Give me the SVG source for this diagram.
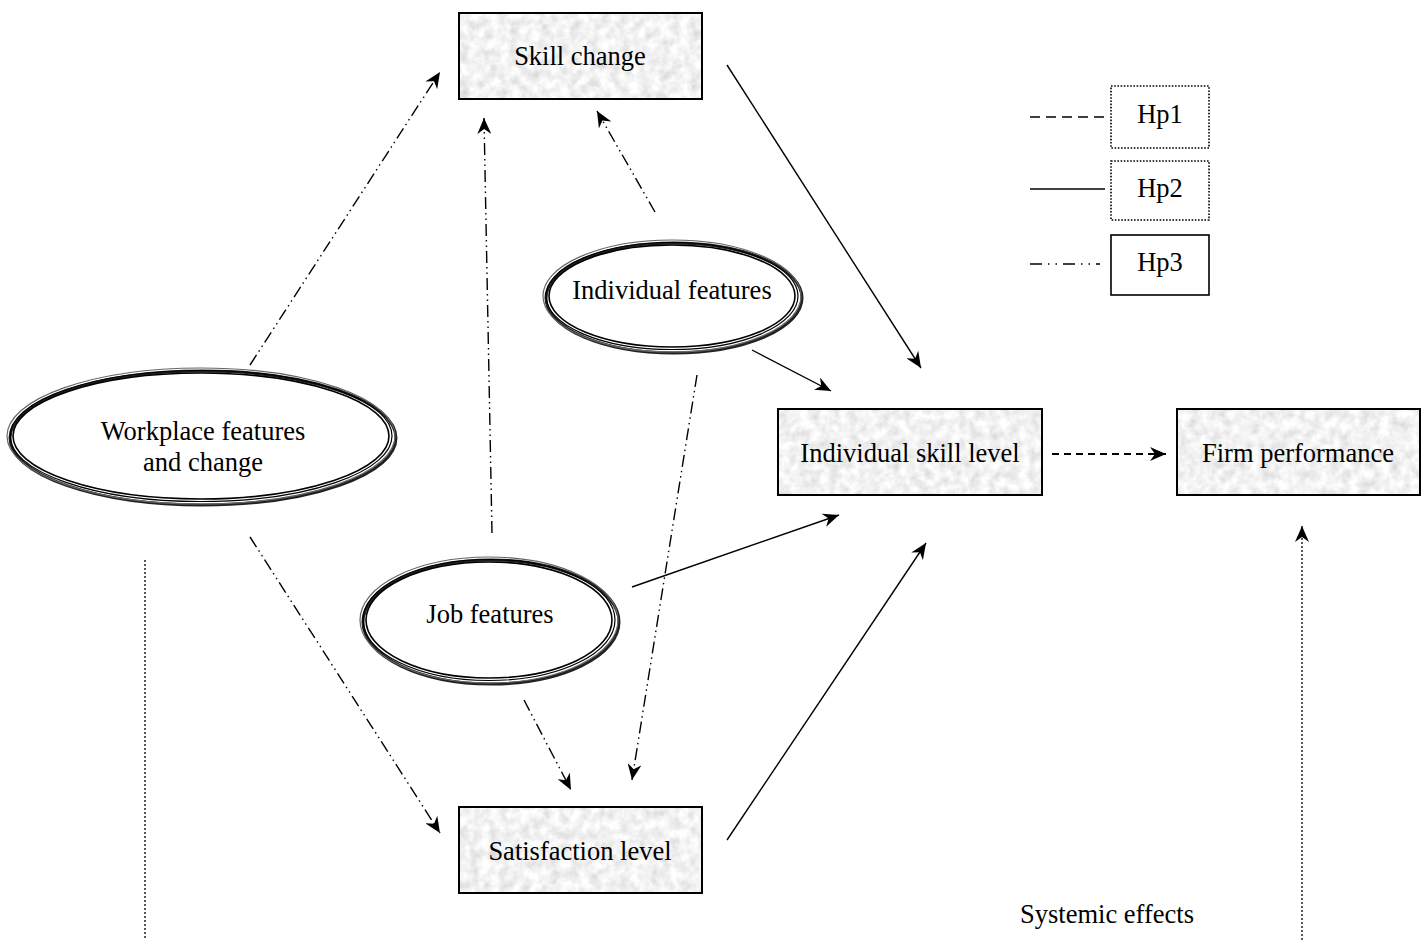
<svg xmlns="http://www.w3.org/2000/svg" width="1428" height="940" viewBox="0 0 1428 940">
<style>
text{font-family:"Liberation Serif","Times New Roman",serif;font-size:26.5px;fill:#000;text-anchor:middle}
.box{stroke:#000;stroke-width:2;fill:none}
.tex{fill:#e6e6e6;filter:url(#paper)}
.e1{fill:#fff;stroke:#000;stroke-width:1.6}
.e2{fill:none;stroke:#000;stroke-width:1.2}
.e3{fill:none;stroke:#666;stroke-width:1.2}
.sh{fill:none;stroke:#222;stroke-width:3}
.ddd{stroke:#000;stroke-width:1.4;fill:none;stroke-dasharray:12 4 1.5 4 1.5 4}
.sol{stroke:#000;stroke-width:1.4;fill:none}
.dash{stroke:#000;stroke-width:2.2;fill:none;stroke-dasharray:7 5}
.dot{stroke:#000;stroke-width:1.3;fill:none;stroke-dasharray:2 2}
</style>
<defs>
<filter id="paper" x="0" y="0" width="100%" height="100%">
<feTurbulence type="fractalNoise" baseFrequency="0.1" numOctaves="3" seed="4" result="n"/>
<feColorMatrix in="n" type="matrix" values="0.5 0 0 0 0.64  0.5 0 0 0 0.64  0.5 0 0 0 0.64  0 0 0 0 1" result="g"/>
<feComposite in="g" in2="SourceGraphic" operator="in"/>
</filter>
<marker id="ah" markerUnits="userSpaceOnUse" markerWidth="18" markerHeight="14" refX="16" refY="7" orient="auto">
<path d="M0,0 L16,7 L0,14 L5,7 z" fill="#000"/>
</marker>
</defs>

<g id="connectors">
<path class="ddd" d="M250,365 L440,72" marker-end="url(#ah)"/>
<path class="ddd" d="M250,537 L440,833" marker-end="url(#ah)"/>
<path class="ddd" d="M492,533 L484,118" marker-end="url(#ah)"/>
<path class="ddd" d="M655,212 L597,111" marker-end="url(#ah)"/>
<path class="ddd" d="M697,375 L632,780" marker-end="url(#ah)"/>
<path class="ddd" d="M524,700 L571,790" marker-end="url(#ah)"/>
<path class="sol" d="M727,65 L921,368" marker-end="url(#ah)"/>
<path class="sol" d="M752,350 L831,391" marker-end="url(#ah)"/>
<path class="sol" d="M632,587 L839,515" marker-end="url(#ah)"/>
<path class="sol" d="M727,840 L926,543" marker-end="url(#ah)"/>
<path class="dash" d="M1052,454 L1166,454" marker-end="url(#ah)"/>
<path class="dot" d="M145,560 L145,940"/>
<path class="dot" d="M1302,940 L1302,526" marker-end="url(#ah)"/>
</g>

<g id="legend">
<path class="dash" d="M1030,117 L1108,117" style="stroke-width:1.6;stroke-dasharray:10 6"/>
<path class="sol" d="M1030,189 L1105,189" style="stroke-width:1.6"/>
<path class="ddd" d="M1030,264 L1100,264" style="stroke-width:1.6;stroke-dasharray:12 6 1.5 6 1.5 6"/>
<rect x="1111" y="86" width="98" height="62" fill="#fff" stroke="#000" stroke-width="1.6" stroke-dasharray="1.6 1.6"/>
<text x="1160" y="123">Hp1</text>
<rect x="1111" y="161" width="98" height="59" fill="#fff" stroke="#000" stroke-width="1.6" stroke-dasharray="1.6 1.6"/>
<text x="1160" y="197">Hp2</text>
<rect x="1111" y="235" width="98" height="60" fill="#fff" stroke="#000" stroke-width="1.6"/>
<text x="1160" y="271">Hp3</text>
</g>

<g id="skill-change">
<rect class="tex" x="459" y="13" width="243" height="86"/>
<rect class="box" x="459" y="13" width="243" height="86"/>
<text x="580" y="65">Skill change</text>
</g>

<g id="individual-skill-level">
<rect class="tex" x="778" y="409" width="264" height="86"/>
<rect class="box" x="778" y="409" width="264" height="86"/>
<text x="910" y="462">Individual skill level</text>
</g>

<g id="firm-performance">
<rect class="tex" x="1177" y="409" width="243" height="86"/>
<rect class="box" x="1177" y="409" width="243" height="86"/>
<text x="1298" y="462">Firm performance</text>
</g>

<g id="satisfaction-level">
<rect class="tex" x="459" y="807" width="243" height="86"/>
<rect class="box" x="459" y="807" width="243" height="86"/>
<text x="580" y="860">Satisfaction level</text>
</g>

<g id="workplace-features">
<ellipse class="sh" cx="203" cy="438" rx="193" ry="67"/>
<ellipse class="e3" cx="201" cy="436" rx="194" ry="68"/>
<ellipse class="e2" cx="201" cy="436" rx="191" ry="65.5"/>
<ellipse class="e1" cx="201" cy="436" rx="188" ry="63"/>
<text x="203" y="440">Workplace features</text>
<text x="203" y="471">and change</text>
</g>

<g id="individual-features">
<ellipse class="sh" cx="674" cy="298" rx="128" ry="55"/>
<ellipse class="e3" cx="672" cy="296" rx="129" ry="56"/>
<ellipse class="e2" cx="672" cy="296" rx="126" ry="53.5"/>
<ellipse class="e1" cx="672" cy="296" rx="123" ry="51"/>
<text x="672" y="299">Individual features</text>
</g>

<g id="job-features">
<ellipse class="sh" cx="491" cy="622" rx="128" ry="62"/>
<ellipse class="e3" cx="489" cy="620" rx="129" ry="63"/>
<ellipse class="e2" cx="489" cy="620" rx="126" ry="60.5"/>
<ellipse class="e1" cx="489" cy="620" rx="123" ry="58"/>
<text x="490" y="623">Job features</text>
</g>

<g id="systemic-effects">
<text x="1107" y="923">Systemic effects</text>
</g>
</svg>
